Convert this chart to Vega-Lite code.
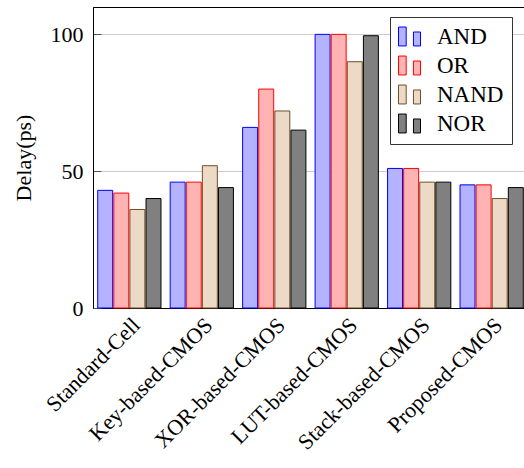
{
  "$schema": "https://vega.github.io/schema/vega-lite/v6.json",
  "autosize": {"type": "none"},
  "padding": {"left": 93, "top": 7, "right": 0, "bottom": 160},
  "width": 435,
  "height": 301,
  "data": {"values": [
    {"method": "Standard-Cell", "gate": "AND", "delay": 43},
    {"method": "Standard-Cell", "gate": "OR", "delay": 42},
    {"method": "Standard-Cell", "gate": "NAND", "delay": 36},
    {"method": "Standard-Cell", "gate": "NOR", "delay": 40},
    {"method": "Key-based-CMOS", "gate": "AND", "delay": 46},
    {"method": "Key-based-CMOS", "gate": "OR", "delay": 46},
    {"method": "Key-based-CMOS", "gate": "NAND", "delay": 52},
    {"method": "Key-based-CMOS", "gate": "NOR", "delay": 44},
    {"method": "XOR-based-CMOS", "gate": "AND", "delay": 66},
    {"method": "XOR-based-CMOS", "gate": "OR", "delay": 80},
    {"method": "XOR-based-CMOS", "gate": "NAND", "delay": 72},
    {"method": "XOR-based-CMOS", "gate": "NOR", "delay": 65},
    {"method": "LUT-based-CMOS", "gate": "AND", "delay": 100},
    {"method": "LUT-based-CMOS", "gate": "OR", "delay": 100},
    {"method": "LUT-based-CMOS", "gate": "NAND", "delay": 90},
    {"method": "LUT-based-CMOS", "gate": "NOR", "delay": 99.5},
    {"method": "Stack-based-CMOS", "gate": "AND", "delay": 51},
    {"method": "Stack-based-CMOS", "gate": "OR", "delay": 51},
    {"method": "Stack-based-CMOS", "gate": "NAND", "delay": 46},
    {"method": "Stack-based-CMOS", "gate": "NOR", "delay": 46},
    {"method": "Proposed-CMOS", "gate": "AND", "delay": 45},
    {"method": "Proposed-CMOS", "gate": "OR", "delay": 45},
    {"method": "Proposed-CMOS", "gate": "NAND", "delay": 40},
    {"method": "Proposed-CMOS", "gate": "NOR", "delay": 44}
  ]},
  "mark": {"type": "bar", "strokeWidth": 1},
  "encoding": {
    "x": {
      "field": "method", "type": "nominal",
      "sort": ["Standard-Cell", "Key-based-CMOS", "XOR-based-CMOS", "LUT-based-CMOS", "Stack-based-CMOS", "Proposed-CMOS"],
      "scale": {"paddingInner": 0.127, "paddingOuter": 0.065},
      "axis": {"title": null, "labelAngle": -45, "labelFontSize": 22, "labelColor": "black", "ticks": false, "labelPadding": 6, "domainColor": "black", "domainWidth": 1, "labelLimit": 300}
    },
    "xOffset": {"field": "gate", "sort": ["AND", "OR", "NAND", "NOR"], "scale": {"paddingInner": 0.07}},
    "y": {
      "field": "delay", "type": "quantitative",
      "scale": {"domain": [0, 110], "nice": false},
      "axis": {"title": "Delay(ps)", "values": [0, 50, 100], "labelFontSize": 22, "labelColor": "black", "titleFontSize": 22, "titleFontWeight": "normal", "titleColor": "black", "titlePadding": 15, "grid": true, "gridColor": "#cccccc", "gridWidth": 1.2, "ticks": true, "tickSize": -8, "tickColor": "#555555", "labelPadding": 18, "domainColor": "black", "domainWidth": 1}
    },
    "fill": {
      "field": "gate", "type": "nominal", "sort": ["AND", "OR", "NAND", "NOR"],
      "scale": {"domain": ["AND", "OR", "NAND", "NOR"], "range": ["#b3b3ff", "#ffb3b3", "#ecd9c6", "#808080"]},
      "legend": {"title": null}
    },
    "stroke": {
      "field": "gate", "type": "nominal", "sort": ["AND", "OR", "NAND", "NOR"],
      "scale": {"domain": ["AND", "OR", "NAND", "NOR"], "range": ["#0000ff", "#ff0000", "#734d26", "#000000"]},
      "legend": {"title": null}
    }
  },
  "config": {
    "font": "Times New Roman, Liberation Serif, DejaVu Serif, serif",
    "view": {"stroke": "black", "strokeWidth": 1},
    "legend": {
      "orient": "none", "legendX": 297, "legendY": 10, "direction": "vertical",
      "strokeColor": "#333333", "fillColor": "white", "padding": 8,
      "symbolType": "M-1,-0.86H-0.3V0.86H-1Z M0.36,-0.41H1V0.86H0.36Z",
      "symbolSize": 484, "symbolStrokeWidth": 1, "symbolOpacity": 1,
      "labelFontSize": 23, "labelColor": "black",
      "labelOffset": 16, "rowPadding": 5
    }
  }
}
